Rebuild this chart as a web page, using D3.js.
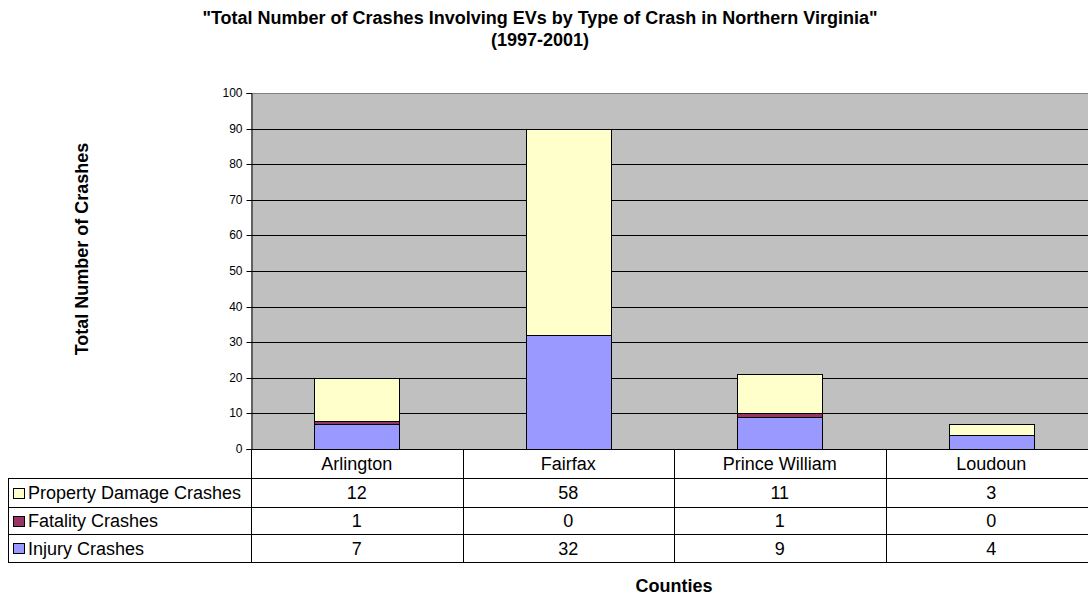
<!DOCTYPE html>
<html>
<head>
<meta charset="utf-8">
<script src="https://cdn.jsdelivr.net/npm/d3@7"></script>
<style>
  html, body { margin: 0; padding: 0; background: #fff; }
  svg { display: block; font-family: "Liberation Sans", Arial, sans-serif; }
</style>
</head>
<body>
<svg id="chart" width="1088" height="595"></svg>
<script>
// Crash counts per county, 1997-2001
const counties = ["Arlington", "Fairfax", "Prince William", "Loudoun"];
const injury = [7, 32, 9, 4];
const fatality = [1, 0, 1, 0];
const propertyDamage = [12, 58, 11, 3];
const seriesNames = ["Injury Crashes", "Fatality Crashes", "Property Damage Crashes"];
const seriesColors = ["#9999FF", "#993366", "#FFFFCC"];
const yTicks = [0, 10, 20, 30, 40, 50, 60, 70, 80, 90, 100];

const rows = counties.map((c, i) => ({
  county: c,
  "Injury Crashes": injury[i],
  "Fatality Crashes": fatality[i],
  "Property Damage Crashes": propertyDamage[i]
}));

const svg = d3.select("#chart");
const W = 1088, H = 595;
const plot = { left: 251, right: 1097, top: 93, bottom: 449 };
const tableLeft = 8;
const rowLines = [478, 507, 534, 562];
const fontMain = 18;

const x = d3.scaleBand().domain(counties).range([plot.left, plot.right]).paddingInner(0).paddingOuter(0);
const y = d3.scaleLinear().domain([0, 100]).range([plot.bottom, plot.top]);

// Titles
svg.append("text").attr("x", 540).attr("y", 24).attr("text-anchor", "middle")
  .attr("font-weight", "bold").attr("font-size", fontMain)
  .text("\"Total Number of Crashes Involving EVs by Type of Crash in Northern Virginia\"");
svg.append("text").attr("x", 540).attr("y", 46).attr("text-anchor", "middle")
  .attr("font-weight", "bold").attr("font-size", fontMain)
  .text("(1997-2001)");

svg.append("text")
  .attr("transform", "translate(88,249) rotate(-90)")
  .attr("text-anchor", "middle").attr("font-weight", "bold").attr("font-size", fontMain)
  .text("Total Number of Crashes");

svg.append("text").attr("x", (plot.left + plot.right) / 2).attr("y", 592)
  .attr("text-anchor", "middle").attr("font-weight", "bold").attr("font-size", fontMain)
  .text("Counties");

// Plot area
const clip = svg.append("defs").append("clipPath").attr("id", "clip");
clip.append("rect").attr("x", 0).attr("y", 0).attr("width", W).attr("height", H);

const g = svg.append("g").attr("clip-path", "url(#clip)");
g.append("rect").attr("x", plot.left).attr("y", plot.top)
  .attr("width", plot.right - plot.left).attr("height", plot.bottom - plot.top)
  .attr("fill", "#C0C0C0");

// Gridlines
g.selectAll("line.grid").data(yTicks.filter(t => t > 0)).join("line")
  .attr("class", "grid")
  .attr("x1", plot.left).attr("x2", plot.right)
  .attr("y1", d => Math.round(y(d)) + 0.5).attr("y2", d => Math.round(y(d)) + 0.5)
  .attr("stroke", d => d === 100 ? "#808080" : "#000").attr("stroke-width", 1);

// Stacked bars
const stack = d3.stack().keys(seriesNames)(rows);
const barW = x.bandwidth() * 0.4;
g.selectAll("g.series").data(stack).join("g")
  .attr("class", "series")
  .attr("fill", (d, i) => seriesColors[i])
  .selectAll("rect").data(d => d.filter(p => p[1] - p[0] > 0)).join("rect")
  .attr("x", d => Math.round(x(d.data.county) + (x.bandwidth() - barW) / 2) + 0.5)
  .attr("width", Math.round(barW))
  .attr("y", d => Math.round(y(d[1])) + 0.5)
  .attr("height", d => Math.round(y(d[0])) - Math.round(y(d[1])))
  .attr("stroke", "#000").attr("stroke-width", 1);

// Y axis
const yAxis = d3.axisLeft(y).tickValues(yTicks).tickSize(5).tickPadding(4);
const ya = svg.append("g").attr("transform", `translate(${plot.left + 0.5},0)`).call(yAxis);
ya.select(".domain").attr("stroke", "#000");
ya.selectAll(".tick line").attr("stroke", "#000");
ya.selectAll(".tick text").attr("font-size", 12).attr("font-family", "Liberation Sans, Arial, sans-serif").attr("fill", "#000");
ya.selectAll(".tick").attr("transform", d => `translate(0,${Math.round(y(d)) + 0.5})`);

// X axis line
g.append("line").attr("x1", plot.left).attr("x2", plot.right)
  .attr("y1", plot.bottom + 0.5).attr("y2", plot.bottom + 0.5).attr("stroke", "#000");

// Data table
const tbl = svg.append("g").attr("clip-path", "url(#clip)");
rowLines.forEach(ly => {
  tbl.append("line").attr("x1", tableLeft).attr("x2", plot.right)
    .attr("y1", ly + 0.5).attr("y2", ly + 0.5).attr("stroke", "#000");
});
tbl.append("line").attr("x1", tableLeft + 0.5).attr("x2", tableLeft + 0.5)
  .attr("y1", rowLines[0]).attr("y2", rowLines[3] + 1).attr("stroke", "#000");
counties.forEach((c, i) => {
  const lx = Math.round(x(c)) + 0.5;
  tbl.append("line").attr("x1", lx).attr("x2", lx)
    .attr("y1", plot.bottom).attr("y2", rowLines[3] + 1).attr("stroke", "#000");
});

// Column headers
tbl.selectAll("text.cat").data(counties).join("text")
  .attr("class", "cat")
  .attr("x", d => x(d) + x.bandwidth() / 2).attr("y", (plot.bottom + rowLines[0]) / 2 + 6.5)
  .attr("text-anchor", "middle").attr("font-size", fontMain).text(d => d);

// Table rows: property damage, fatality, injury (top to bottom)
const tableRows = [
  { name: "Property Damage Crashes", values: propertyDamage, color: seriesColors[2] },
  { name: "Fatality Crashes", values: fatality, color: seriesColors[1] },
  { name: "Injury Crashes", values: injury, color: seriesColors[0] }
];
tableRows.forEach((r, ri) => {
  const top = rowLines[ri], bot = rowLines[ri + 1];
  const cy = (top + bot) / 2;
  tbl.append("rect").attr("x", 13.5).attr("y", Math.round(cy - 5) + 0.5)
    .attr("width", 11).attr("height", 10)
    .attr("fill", r.color).attr("stroke", "#000");
  tbl.append("text").attr("x", 28).attr("y", cy + 6.5)
    .attr("font-size", fontMain).text(r.name);
  r.values.forEach((v, i) => {
    tbl.append("text").attr("x", x(counties[i]) + x.bandwidth() / 2).attr("y", cy + 6.5)
      .attr("text-anchor", "middle").attr("font-size", fontMain).text(v);
  });
});
</script>
</body>
</html>
